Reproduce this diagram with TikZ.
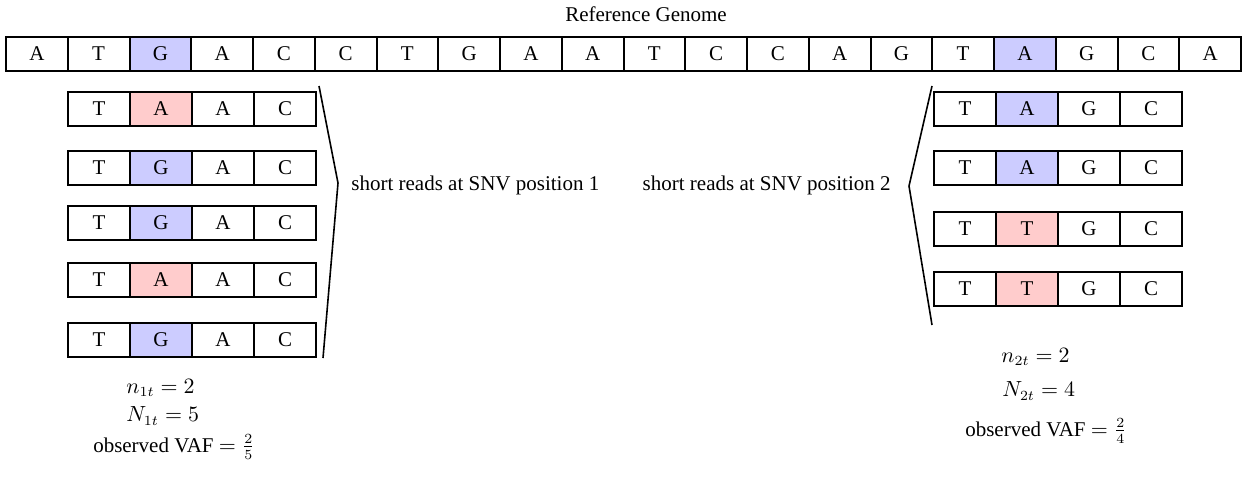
\documentclass[tikz,border=0pt]{standalone}
\usepackage[no-math]{fontspec}
\setmainfont{Liberation Serif}
\definecolor{snvblue}{HTML}{CCCCFF}
\definecolor{snvred}{HTML}{FFCCCC}
\begin{document}
\begin{tikzpicture}[x=0.5pt,y=-0.5pt,
  base/.style={draw, line width=1pt, minimum width=30.875pt, minimum height=17pt, inner sep=0pt, font=\fontsize{10.5}{12}\selectfont},
  txt/.style={inner sep=0pt, font=\fontsize{10.5}{12}\selectfont},
  brk/.style={line width=0.8pt}]
\useasboundingbox (0,0) rectangle (1245,477);
% reference genome
\foreach \b/\c [count=\i] in {A/white,T/white,G/snvblue,A/white,C/white,C/white,T/white,G/white,A/white,A/white,T/white,C/white,C/white,A/white,G/white,T/white,A/snvblue,G/white,C/white,A/white}
  \node[base, fill=\c] (ref\i) at ({6+61.75*(\i-0.5)},54) {\b};
\node[txt] (title) at (646,14) {Reference Genome};
% left reads
\foreach \y/\m/\c [count=\j] in {109/A/snvred,168/G/snvblue,222.5/G/snvblue,280/A/snvred,340/G/snvblue} {
  \node[base] (L\j a) at (99,\y) {T};
  \node[base, fill=\c] (L\j b) at (161,\y) {\m};
  \node[base] (L\j c) at (223,\y) {A};
  \node[base] (L\j d) at (285,\y) {C};
}
% right reads
\foreach \y/\m/\c [count=\j] in {109/A/snvblue,168/A/snvblue,228.5/T/snvred,288.5/T/snvred} {
  \node[base] (R\j a) at (965,\y) {T};
  \node[base, fill=\c] (R\j b) at (1027,\y) {\m};
  \node[base] (R\j c) at (1089,\y) {G};
  \node[base] (R\j d) at (1151,\y) {C};
}
% brackets
\coordinate (lb1) at (319,86);
\coordinate (lb2) at (338,183);
\coordinate (lb3) at (323,358);
\draw[brk] (lb1) -- (lb2) -- (lb3);
\coordinate (rb1) at (932,86);
\coordinate (rb2) at (909,186);
\coordinate (rb3) at (932,325);
\draw[brk] (rb1) -- (rb2) -- (rb3);
\node[txt, anchor=west] (s1) at (351,185) {short reads at SNV position 1};
\node[txt, anchor=east] (s2) at (891,185) {short reads at SNV position 2};
% counts
\node[txt, anchor=west] (n1) at (126,388) {$n_{1t}=2$};
\node[txt, anchor=west] (N1) at (126,416) {$N_{1t}=5$};
\node[txt] (v1) at (174,447) {observed VAF $=\frac{2}{5}$};
\node[txt, anchor=west] (n2) at (1001,357) {$n_{2t}=2$};
\node[txt, anchor=west] (N2) at (1002,391) {$N_{2t}=4$};
\node[txt] (v2) at (1046,431) {observed VAF $=\frac{2}{4}$};
\end{tikzpicture}
\end{document}
